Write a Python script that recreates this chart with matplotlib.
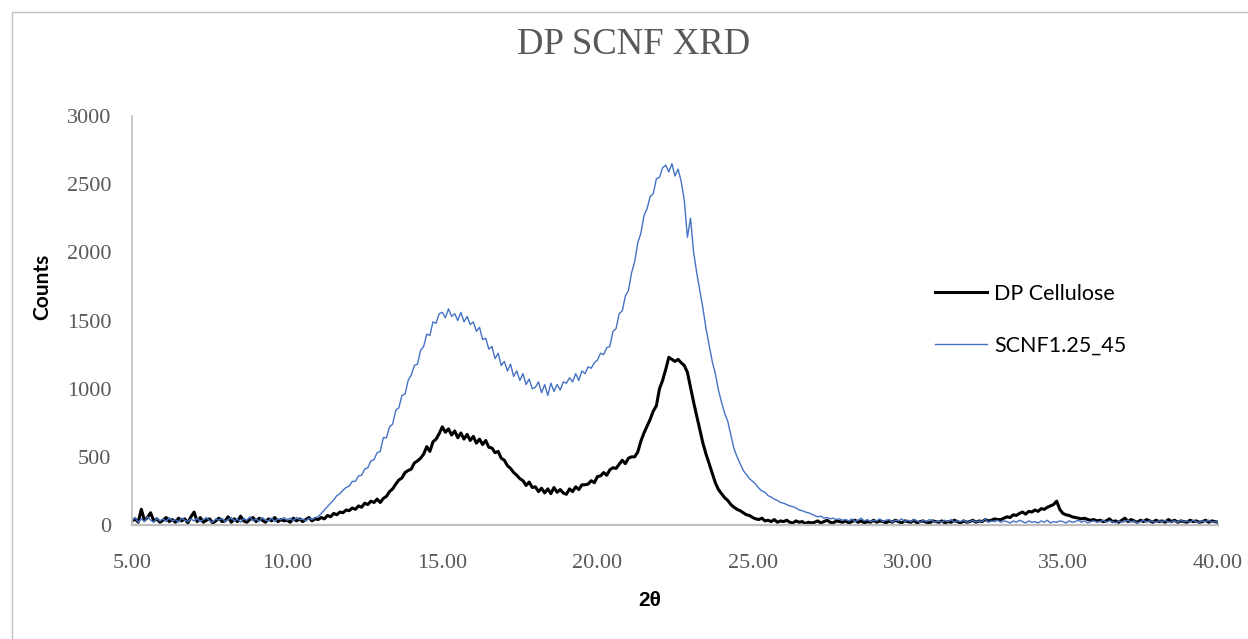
import numpy as np
import matplotlib
matplotlib.use("Agg")
import matplotlib.pyplot as plt
from matplotlib.patches import Rectangle

# 2-theta grid (degrees), 0.1 step from 5 to 40
two_theta = np.round(np.arange(5.0, 40.0001, 0.1), 2)

dp_cellulose = [
    30, 45, 20, 115, 35, 55, 90, 30, 45, 20,
    35, 55, 25, 40, 20, 50, 30, 45, 15, 60,
    95, 25, 55, 20, 35, 45, 15, 30, 50, 25,
    30, 60, 20, 45, 25, 65, 30, 20, 40, 55,
    25, 50, 35, 20, 45, 30, 55, 25, 40, 30,
    35, 20, 50, 30, 45, 25, 40, 55, 30, 45,
    40, 55, 45, 70, 60, 85, 75, 95, 90, 110,
    105, 125, 115, 140, 130, 160, 150, 175, 165, 190,
    165, 195, 210, 245, 265, 300, 330, 345, 385, 400,
    410, 455, 470, 490, 520, 575, 540, 610, 630, 670,
    720, 680, 705, 660, 690, 640, 675, 630, 665, 620,
    650, 600, 630, 590, 620, 570, 565, 530, 540, 490,
    475, 435, 415, 385, 365, 340, 325, 290, 315, 275,
    280, 245, 270, 235, 265, 230, 275, 240, 260, 235,
    225, 265, 245, 280, 260, 295, 295, 300, 325, 310,
    355, 360, 385, 365, 405, 420, 415, 445, 475, 450,
    490, 500, 500, 535, 615, 675, 725, 775, 835, 875,
    1000, 1060, 1140, 1230, 1215, 1200, 1215, 1190, 1170, 1120,
    1010, 900, 800, 700, 600, 520, 450, 380, 310, 260,
    230, 200, 180, 150, 130, 115, 105, 90, 75, 70,
    55, 45, 40, 50, 30, 35, 25, 40, 20, 30,
    25, 35, 20, 15, 30, 20, 25, 10, 20, 15,
    20, 30, 15, 25, 35, 20, 15, 30, 25, 20,
    30, 15, 25, 35, 20, 30, 15, 25, 20, 35,
    20, 30, 25, 15, 30, 20, 35, 25, 15, 30,
    25, 20, 35, 15, 25, 30, 20, 15, 30, 25,
    20, 30, 15, 25, 20, 35, 25, 15, 30, 20,
    25, 35, 20, 30, 25, 40, 30, 35, 45, 40,
    40, 50, 60, 55, 75, 70, 85, 95, 80, 100,
    95, 110, 100, 120, 115, 130, 140, 150, 175, 115,
    85, 75, 70, 60, 55, 50, 45, 50, 40, 35,
    40, 30, 35, 25, 30, 45, 25, 30, 20, 35,
    50, 25, 40, 30, 20, 35, 25, 40, 30, 20,
    35, 25, 30, 20, 40, 25, 35, 20, 30, 25,
    20, 35, 25, 30, 20, 25, 35, 20, 30, 25,
    20,
]

scnf = [
    30, 55, 20, 45, 25, 60, 35, 20, 50, 30,
    45, 25, 55, 30, 40, 20, 50, 35, 25, 45,
    30, 50, 25, 40, 55, 30, 20, 45, 35, 50,
    25, 40, 55, 30, 45, 20, 50, 35, 60, 30,
    45, 25, 55, 35, 30, 50, 25, 45, 40, 55,
    35, 50, 30, 55, 40, 45, 30, 50, 40, 55,
    60, 85, 110, 135, 160, 185, 215, 230, 255, 275,
    285, 320, 320, 360, 365, 410, 420, 470, 480, 530,
    540, 640, 640, 720, 740, 840, 860, 950, 960, 1060,
    1100, 1170, 1180, 1280, 1310, 1400, 1390, 1490, 1480, 1550,
    1560, 1520, 1585, 1530, 1550, 1500, 1560, 1490, 1530, 1470,
    1490, 1420, 1450, 1360, 1370, 1290, 1310, 1220, 1260, 1170,
    1200, 1130, 1180, 1090, 1130, 1060, 1110, 1030, 1070, 1000,
    1010, 1050, 970, 1030, 950, 1040, 980, 1030, 990, 1050,
    1040, 1080, 1050, 1110, 1060, 1130, 1110, 1160, 1150, 1190,
    1210, 1260, 1250, 1300, 1310, 1420, 1440, 1550, 1570, 1680,
    1720, 1850, 1930, 2070, 2140, 2270, 2320, 2410, 2430, 2540,
    2550, 2620, 2640, 2590, 2650, 2560, 2610, 2520, 2380, 2110,
    2250, 2000, 1850, 1720, 1590, 1440, 1320, 1200, 1110, 990,
    900, 820, 760, 660, 560, 500, 450, 400, 370, 340,
    320, 300, 270, 250, 240, 215, 205, 190, 180, 165,
    160, 150, 140, 135, 125, 110, 105, 95, 90, 80,
    70, 60, 65, 50, 55, 45, 50, 40, 45, 35,
    40, 30, 45, 25, 35, 50, 30, 40, 25, 35,
    30, 45, 25, 35, 40, 20, 35, 30, 45, 25,
    35, 25, 40, 30, 20, 35, 25, 40, 30, 20,
    30, 20, 35, 25, 40, 20, 30, 25, 35, 20,
    25, 35, 20, 30, 25, 45, 20, 30, 25, 35,
    20, 30, 25, 15, 30, 20, 35, 25, 15, 30,
    20, 25, 15, 30, 20, 35, 15, 25, 20, 30,
    25, 15, 30, 20, 25, 35, 20, 30, 15, 25,
    30, 20, 25, 35, 20, 30, 25, 15, 30, 20,
    25, 35, 20, 30, 15, 25, 35, 20, 30, 25,
    20, 30, 25, 35, 20, 25, 30, 20, 35, 25,
    30, 20, 35, 25, 20, 30, 25, 35, 20, 25,
    20,
]

series_names = ["DP Cellulose", "SCNF1.25_45"]
x_ticks = [5, 10, 15, 20, 25, 30, 35, 40]
x_tick_labels = ["5.00", "10.00", "15.00", "20.00", "25.00", "30.00", "35.00", "40.00"]
y_ticks = [0, 500, 1000, 1500, 2000, 2500, 3000]

W, H = 1248, 639
fig = plt.figure(figsize=(W / 100, H / 100), dpi=100)
fig.patch.set_facecolor("white")

# outer chart frame (only left/top visible)
fig.add_artist(Rectangle((12 / W, -0.5), 2.0, 1.5 - 12 / H, transform=fig.transFigure,
                         fill=False, edgecolor="#BFBFBF", linewidth=1.0))

ax = fig.add_axes([132 / W, 1 - 525 / H, (1218 - 132) / W, (525 - 116) / H])
ax.plot(two_theta, dp_cellulose, color="black", lw=2.2, label=series_names[0])
ax.plot(two_theta, scnf, color="#4472C4", lw=1.0, label=series_names[1])

ax.set_xlim(5, 40)
ax.set_ylim(0, 3000)
ax.set_xticks(x_ticks)
ax.set_xticklabels(x_tick_labels)
ax.set_yticks(y_ticks)
for s in ["top", "right"]:
    ax.spines[s].set_visible(False)
for s in ["left", "bottom"]:
    ax.spines[s].set_color("#BFBFBF")
ax.spines["left"].set_linewidth(1.2)
ax.spines["bottom"].set_linewidth(1.6)
ax.tick_params(axis="both", length=0, labelcolor="#595959", labelsize=16)
ax.tick_params(axis="x", pad=21)
ax.tick_params(axis="y", pad=15)
for lab in ax.get_xticklabels() + ax.get_yticklabels():
    lab.set_family("Liberation Serif")

fig.text(634 / W, 1 - 45 / H, "DP SCNF XRD", ha="center", va="center",
         family="Liberation Serif", fontsize=26.5, color="#595959")
fig.text(42 / W, 1 - 287 / H, "Counts", ha="center", va="center", rotation=90,
         family="Lato", fontweight="bold", fontsize=15)
fig.text(650 / W, 1 - 601 / H, "2θ", ha="center", va="center",
         family=["Liberation Sans", "DejaVu Sans"], fontweight="bold", fontsize=15)

leg = fig.legend(loc="upper left", bbox_to_anchor=(935 / W, 1 - 284 / H),
                 frameon=False, handlelength=2.4, handletextpad=0.35,
                 labelspacing=1.45, borderpad=0, borderaxespad=0,
                 prop={"family": "Lato", "size": 15.5})

fig.savefig("out.png", dpi=100)
